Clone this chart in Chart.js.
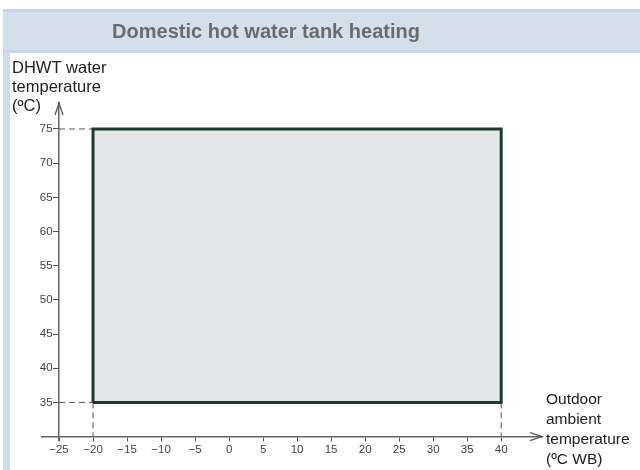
<!DOCTYPE html>
<html>
<head>
<meta charset="utf-8">
<script src="https://cdn.jsdelivr.net/npm/chart.js@4"></script>
<style>
  html, body { margin: 0; padding: 0; background: #ffffff; }
  canvas { display: block; }
</style>
</head>
<body>
<canvas id="migrafica" width="640" height="470"></canvas>
<script>
// operating range (rectangle corners)
const outdoorRange = [-20, 40];
const waterRange = [35, 75];
// tick labels
const xTicks = [-25, -20, -15, -10, -5, 0, 5, 10, 15, 20, 25, 30, 35, 40];
const yTicks = [35, 40, 45, 50, 55, 60, 65, 70, 75];
// where the axes cross
const axisX = -25;
const axisY = 30;

const titleText = "Domestic hot water tank heating";
const yTitle = ["DHWT water", "temperature", "(ºC)"];
const xTitle = ["Outdoor", "ambient", "temperature", "(ºC WB)"];

const FONT = "'Liberation Sans', Arial, sans-serif";

document.addEventListener("DOMContentLoaded", function () {

    let micanvas = document.getElementById("migrafica").getContext("2d");

    const x0 = outdoorRange[0], x1 = outdoorRange[1];
    const y0 = waterRange[0], y1 = waterRange[1];

    const dashed = function (pts) {
        return {
            data: pts,
            showLine: true,
            borderColor: "#555555",
            borderWidth: 1,
            borderDash: [6, 4],
            pointRadius: 0,
            fill: false
        };
    };

    const decor = {
        id: "decor",
        beforeDraw(chart) {
            const c = chart.ctx;
            c.save();
            // header band
            c.fillStyle = "#d5dfeb";
            c.fillRect(3, 9, 637, 44);
            c.fillStyle = "#c6d5e8";
            c.fillRect(3, 9, 637, 3);
            c.fillRect(3, 50, 637, 3);
            // left strip
            c.fillStyle = "#cfdcea";
            c.fillRect(3, 53, 7, 417);
            // title
            c.fillStyle = "#6b6b6b";
            c.font = "bold 20px " + FONT;
            c.textAlign = "center";
            c.textBaseline = "alphabetic";
            c.fillText(titleText, 266, 38);
            c.restore();
        },
        afterDraw(chart) {
            const c = chart.ctx;
            const xs = chart.scales.x, ys = chart.scales.y;
            const ax = xs.getPixelForValue(axisX);
            const ay = ys.getPixelForValue(axisY);
            const area = chart.chartArea;
            c.save();
            // arrow heads
            c.strokeStyle = "#555555";
            c.lineWidth = 1.2;
            c.beginPath();
            c.moveTo(ax - 4, area.top + 12);
            c.lineTo(ax, area.top);
            c.lineTo(ax + 4, area.top + 12);
            c.moveTo(area.right - 12, ay - 4);
            c.lineTo(area.right, ay);
            c.lineTo(area.right - 12, ay + 4);
            c.stroke();
            // axis titles
            c.fillStyle = "#222222";
            c.textAlign = "left";
            c.textBaseline = "alphabetic";
            c.font = "16.5px " + FONT;
            yTitle.forEach(function (t, i) { c.fillText(t, 12, 73 + i * 19); });
            c.font = "15.5px " + FONT;
            xTitle.forEach(function (t, i) { c.fillText(t, 546, 404 + i * 20); });
            c.restore();
        }
    };

    let chart = new Chart(micanvas, {
        type: 'scatter',
        data: {
            datasets: [
                {
                    // outline of the operating range
                    data: [
                        {x: x0, y: y0}, {x: x0, y: y1}, {x: x1, y: y1},
                        {x: x1, y: y0}, {x: x0, y: y0}
                    ],
                    showLine: true,
                    borderColor: "#1d3a2a",
                    borderWidth: 3,
                    borderJoinStyle: "miter",
                    pointRadius: 0,
                    fill: false
                },
                dashed([{x: axisX, y: y1}, {x: x0, y: y1}]),
                dashed([{x: axisX, y: y0}, {x: x0, y: y0}]),
                dashed([{x: x0, y: y0}, {x: x0, y: axisY}]),
                dashed([{x: x1, y: y0}, {x: x1, y: axisY}]),
                {
                    data: [{x: x0, y: y1}, {x: x1, y: y1}],
                    showLine: true,
                    borderWidth: 0,
                    pointRadius: 0,
                    backgroundColor: "#e4e5e7",
                    fill: '+1'
                },
                {
                    data: [{x: x0, y: y0}, {x: x1, y: y0}],
                    showLine: true,
                    borderWidth: 0,
                    pointRadius: 0,
                    fill: false
                }
            ]
        },
        options: {
            responsive: false,
            animation: false,
            layout: {
                padding: {top: 103, left: 42, right: 98, bottom: 30}
            },
            plugins: {
                legend: {display: false},
                tooltip: {enabled: false},
                title: {display: false}
            },
            scales: {
                x: {
                    type: 'linear',
                    position: {y: axisY},
                    min: -27.5,
                    max: 46,
                    afterBuildTicks: function (s) { s.ticks = xTicks.map(function (v) { return {value: v}; }); },
                    grid: {drawOnChartArea: false, drawTicks: true, tickLength: 4, color: "#555555"},
                    border: {display: true, color: "#666666", width: 1.5},
                    ticks: {
                        color: "#444444",
                        padding: 2,
                        maxRotation: 0,
                        autoSkip: false,
                        font: {family: FONT, size: 11.5},
                        callback: function (v) { return v < 0 ? "\u2212" + Math.abs(v) : String(v); }
                    }
                },
                y: {
                    type: 'linear',
                    position: {x: axisX},
                    min: 29.5,
                    max: 78.8,
                    afterBuildTicks: function (s) { s.ticks = yTicks.map(function (v) { return {value: v}; }); },
                    grid: {drawOnChartArea: false, drawTicks: true, tickLength: 5, color: "#555555"},
                    border: {display: true, color: "#666666", width: 1.5},
                    ticks: {
                        color: "#444444",
                        padding: 0,
                        autoSkip: false,
                        font: {family: FONT, size: 11.5},
                        // labels sit on the axis when it is placed by value; keep them clear of the tick marks
                        callback: function (v) { return v + "  "; }
                    }
                }
            }
        },
        plugins: [decor]
    })

})
</script>
</body>
</html>
